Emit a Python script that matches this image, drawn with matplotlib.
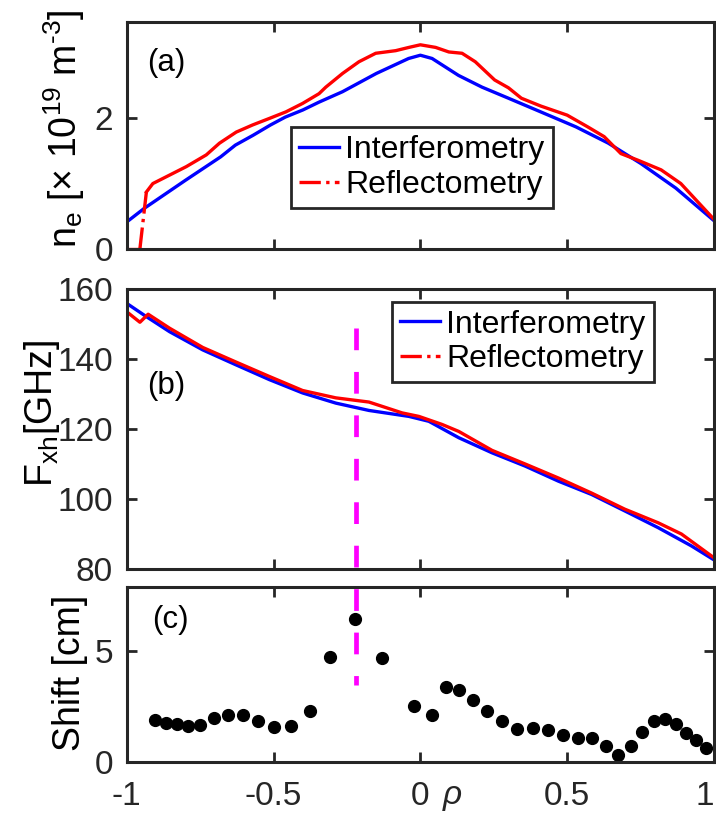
import numpy as np
import matplotlib
matplotlib.use("Agg")
import matplotlib.pyplot as plt
from matplotlib.lines import Line2D

plt.rcParams['font.family'] = ['Liberation Sans', 'DejaVu Sans']
plt.rcParams['mathtext.fontset'] = 'custom'
plt.rcParams['mathtext.rm'] = 'Liberation Sans'
plt.rcParams['mathtext.it'] = 'Liberation Sans:italic'
plt.rcParams['mathtext.default'] = 'regular'
plt.rcParams['axes.unicode_minus'] = False

# ---------------- data ----------------
# (a) density profiles
rho_ne_int = [-1.0, -0.94, -0.80, -0.68, -0.63, -0.57, -0.51, -0.46, -0.40, -0.345,
              -0.265, -0.15, -0.04, 0.0, 0.04, 0.13, 0.21, 0.30, 0.41, 0.53,
              0.64, 0.75, 0.87, 1.0]
ne_int = [0.41, 0.62, 1.05, 1.41, 1.59, 1.74, 1.90, 2.02, 2.13, 2.25,
          2.41, 2.69, 2.92, 2.97, 2.92, 2.66, 2.48, 2.31, 2.10, 1.87,
          1.62, 1.31, 0.93, 0.43]

rho_ne_ref = [-1.0, -0.955, -0.933, -0.911, -0.854, -0.797, -0.729, -0.684, -0.627, -0.571,
              -0.514, -0.458, -0.401, -0.345, -0.322, -0.265, -0.209, -0.152, -0.084, -0.039,
              0.0, 0.052, 0.097, 0.142, 0.187, 0.253, 0.30, 0.344, 0.41, 0.50,
              0.57, 0.626, 0.683, 0.74, 0.82, 0.887, 1.0]
ne_ref = [0.0, 0.0, 0.87, 1.00, 1.13, 1.26, 1.44, 1.62, 1.79, 1.90,
          2.00, 2.10, 2.23, 2.38, 2.48, 2.69, 2.87, 3.00, 3.04, 3.09,
          3.13, 3.09, 3.02, 3.00, 2.87, 2.59, 2.47, 2.31, 2.19, 2.05,
          1.87, 1.72, 1.46, 1.36, 1.21, 1.00, 0.45]

# (b) frequency profiles
rho_f_int = [-1.0, -0.933, -0.854, -0.741, -0.627, -0.514, -0.401, -0.288, -0.175, -0.039,
             0.029, 0.131, 0.244, 0.357, 0.47, 0.583, 0.696, 0.81, 0.923, 1.0]
f_int = [155.9, 152.1, 147.8, 142.6, 138.3, 134.1, 130.3, 127.4, 125.3, 123.6,
         122.2, 117.5, 113.2, 109.4, 105.1, 101.3, 96.6, 91.8, 86.6, 82.6]

rho_f_ref = [-1.0, -0.955, -0.927, -0.854, -0.741, -0.627, -0.514, -0.401, -0.288, -0.175,
             -0.062, -0.005, 0.074, 0.131, 0.244, 0.357, 0.47, 0.583, 0.696, 0.81,
             0.889, 1.0]
f_ref = [153.5, 150.5, 152.8, 148.8, 143.3, 139.1, 135.0, 131.0, 128.9, 127.7,
         124.6, 123.6, 121.3, 119.3, 113.9, 110.0, 106.0, 101.7, 97.1, 93.2,
         90.0, 83.2]

# (c) shift
rho_shift = [-0.903, -0.865, -0.829, -0.791, -0.750, -0.704, -0.656, -0.605, -0.553, -0.497,
             -0.439, -0.377, -0.306, -0.223, -0.130, -0.022, 0.039, 0.086, 0.132, 0.178,
             0.228, 0.278, 0.329, 0.382, 0.434, 0.486, 0.537, 0.583, 0.632, 0.674,
             0.716, 0.755, 0.794, 0.832, 0.870, 0.905, 0.939, 0.973]
shift = [1.88, 1.76, 1.69, 1.63, 1.64, 1.99, 2.12, 2.11, 1.83, 1.58,
         1.63, 2.29, 4.73, 6.45, 4.69, 2.52, 2.10, 3.36, 3.25, 2.79,
         2.28, 1.84, 1.49, 1.52, 1.42, 1.19, 1.08, 1.06, 0.71, 0.30,
         0.72, 1.33, 1.83, 1.92, 1.69, 1.28, 0.97, 0.63]

marker_rho = -0.22
marker_top_f = 148.8
marker_bottom_shift = 3.47

xticks = [-1, -0.5, 0, 0.5, 1]
xticklabels = ['-1', '-0.5', '0', '0.5', '1']
legend_labels = ['Interferometry', 'Reflectometry']

# ---------------- style ----------------
AX_COL = '#262626'
BLUE = '#0000FF'
RED = '#FF0000'
LW = 2.4
TICK_FS = 24
LABEL_FS = 27
LEG_FS = 23
PANEL_FS = 22.5

fig = plt.figure(figsize=(7.16, 8.14), dpi=100)
W, H = 716.0, 814.0
def pos(l, r, t, b):
    return [l / W, 1 - b / H, (r - l) / W, (b - t) / H]

axa = fig.add_axes(pos(126.7, 714, 22, 248.7))
axb = fig.add_axes(pos(126.7, 714, 289, 569))
axc = fig.add_axes(pos(126.7, 714, 586.7, 761.7))

for ax in (axa, axb, axc):
    ax.set_xlim(-1, 1)
    ax.set_xticks(xticks)
    ax.tick_params(direction='in', length=7, width=2, top=True, right=True,
                   colors=AX_COL, labelsize=TICK_FS, pad=10)
    ax.tick_params(axis='x', pad=14)
    for s in ax.spines.values():
        s.set_linewidth(2.2)
        s.set_color(AX_COL)
axa.set_xticklabels([])
axb.set_xticklabels([])
axc.set_xticklabels(xticklabels)

# (a)
axa.plot(rho_ne_int, ne_int, '-', color=BLUE, lw=LW)
axa.plot(rho_ne_ref[:2], ne_ref[:2], '-', color=RED, lw=LW)
axa.plot(rho_ne_ref[1:3], ne_ref[1:3], '-.', color=RED, lw=LW)
axa.plot(rho_ne_ref[2:], ne_ref[2:], '-', color=RED, lw=LW)
axa.set_ylim(0, 3.48)
axa.set_yticks([0, 2])
axa.set_ylabel(r'$n_e$ [× $10^{19}$ $m^{\text{-}3}$]', fontsize=LABEL_FS, color='black')
axa.yaxis.set_label_coords(-0.068, 0.53)
axa.text(0.034, 0.82, '(a)', transform=axa.transAxes, fontsize=PANEL_FS, va='center', ha='left')

handles = [Line2D([], [], color=BLUE, lw=LW, ls='-'),
           Line2D([], [], color=RED, lw=LW, ls='-.')]
leg_kw = dict(fontsize=LEG_FS, frameon=True, fancybox=False, framealpha=1,
              edgecolor=AX_COL, borderpad=0.25, labelspacing=0.15, handlelength=1.25,
              handletextpad=0.2, borderaxespad=0.0, loc='upper left')
la = axa.legend(handles, legend_labels, bbox_to_anchor=(0.28, 0.537), **leg_kw)
la.get_frame().set_linewidth(2.0)

# (b)
axb.plot(rho_f_int, f_int, '-', color=BLUE, lw=LW)
axb.plot(rho_f_ref, f_ref, '-', color=RED, lw=LW)
axb.set_ylim(80, 160)
axb.set_yticks([80, 100, 120, 140, 160])
axb.set_ylabel('$F_{xh}$[GHz]', fontsize=LABEL_FS, color='black')
axb.yaxis.set_label_coords(-0.11, 0.555)
axb.text(0.034, 0.654, '(b)', transform=axb.transAxes, fontsize=PANEL_FS, va='center', ha='left')
lb = axb.legend(handles, legend_labels, bbox_to_anchor=(0.452, 0.955), **leg_kw)
lb.get_frame().set_linewidth(2.0)

# (c)
axc.plot(rho_shift, shift, 'o', color='black', ms=8.5, mec='black')
axc.set_ylim(0, 7.9)
axc.set_yticks([0, 5])
axc.set_ylabel('Shift [cm]', fontsize=LABEL_FS, color='black')
axc.yaxis.set_label_coords(-0.066, 0.51)
axc.text(0.043, 0.81, '(c)', transform=axc.transAxes, fontsize=PANEL_FS, va='center', ha='left')
axc.set_xlabel('ρ', fontsize=TICK_FS, style='italic', color=AX_COL)
axc.xaxis.set_label_coords(0.554, -0.105)
axc.xaxis.label.set_va('top')
# keep the last tick label inside the canvas
last = axc.get_xticklabels()[-1]
last.set_ha('right')
last.set_x(1.0)

# vertical dashed marker across (b) and (c)
inv = fig.transFigure.inverted()
p1 = inv.transform(axb.transData.transform((marker_rho, marker_top_f)))
p2 = inv.transform(axc.transData.transform((marker_rho, marker_bottom_shift)))
fig.add_artist(Line2D([p1[0], p2[0]], [p1[1], p2[1]], transform=fig.transFigure,
                      color='#FF00FF', lw=3.4, dashes=(4.6, 4.6), zorder=10))

fig.savefig('out.png', dpi=100)
